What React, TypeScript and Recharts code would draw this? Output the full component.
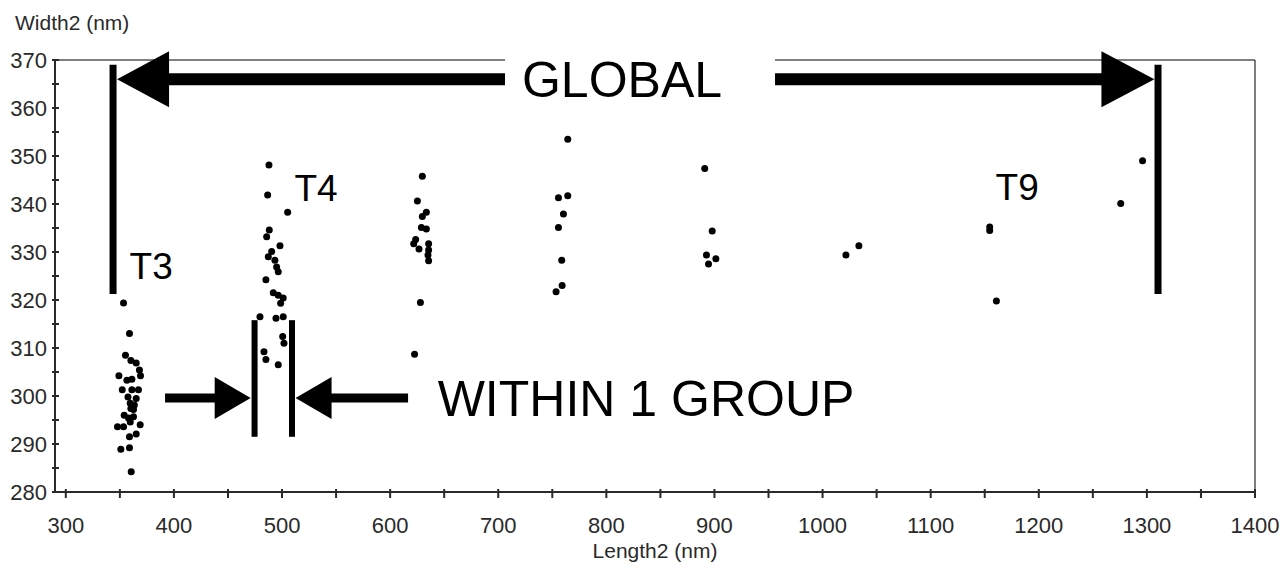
import React from "react";
import {
  ReferenceArea,
  ReferenceDot,
  ReferenceLine,
  Scatter,
  ScatterChart,
  XAxis,
  YAxis,
} from "recharts";

// Measured points, grouped by die (Length2, Width2 in nm)
const T3 = [
  [353.4, 319.4], [358.9, 313], [355.2, 308.5], [360.2, 307.4], [365.1, 306.9],
  [368.1, 305.4], [349.1, 304.2], [369.1, 304.2], [356.5, 303.3], [361.1, 303.5],
  [352.2, 301.3], [361.1, 301.3], [367.2, 301.3], [365.1, 299.5], [359.6, 298.5],
  [360.2, 297.4], [362.6, 297.2], [354, 296], [358, 295.4], [362.6, 295.7],
  [359.6, 294.6], [347.8, 293.6], [353.4, 293.6], [368.8, 294], [365.1, 292.1],
  [358.9, 291.5], [350.9, 288.9], [358.9, 289.2], [360.5, 284.2], [357.5, 299.8],
  [363.4, 298.1],
];
const T4 = [
  [487.9, 348.1], [486.7, 341.9], [505.2, 338.3], [488.2, 334.6], [485.8, 333.2],
  [498.1, 331.3], [490.4, 330.1], [487.3, 329], [493.4, 328.3], [495, 326.9],
  [496.5, 325.9], [485.1, 324.2], [491.9, 321.5], [496.5, 321], [501.1, 320.4],
  [498.7, 319.3], [479.6, 316.5], [494.4, 316.2], [501.1, 316.5], [500.6, 312.4],
  [501.8, 311], [483.3, 309.2], [485.1, 307.6], [496.5, 306.5],
];
const T5 = [
  [629.8, 345.8], [625.2, 340.6], [633.5, 338.3], [629.8, 337.4], [628.9, 335.1],
  [633.5, 334.8], [623.6, 332.6], [621.8, 331.7], [626.7, 330.6], [635.6, 331.7],
  [635.6, 330.4], [635, 329.4], [635.6, 328.2], [628, 319.5], [622.6, 308.7],
];
const T6 = [
  [764.3, 353.5], [755.7, 341.3], [764.3, 341.7], [760.3, 337.9], [755.7, 335.1],
  [758.7, 328.3], [759.1, 323], [753.5, 321.7],
];
const T7 = [[891, 347.4], [897.9, 334.4], [892.6, 329.4], [901.3, 328.6], [894.5, 327.5]];
const T8 = [[1021.6, 329.4], [1033.6, 331.3]];
const T9 = [[1154.6, 335.2], [1154.6, 334.5], [1160.8, 319.8], [1275.8, 340.1], [1296, 349]];

const X_TICKS = [
  300, 350, 400, 450, 500, 550, 600, 650, 700, 750, 800, 850, 900, 950, 1000, 1050,
  1100, 1150, 1200, 1250, 1300, 1350, 1400,
];
const Y_TICKS = [
  280, 285, 290, 295, 300, 305, 310, 315, 320, 325, 330, 335, 340, 345, 350, 355,
  360, 365, 370,
];

const points = [...T3, ...T4, ...T5, ...T6, ...T7, ...T8, ...T9].map(([x, y]) => ({ x, y }));

const FONT = "'Liberation Sans', Arial, sans-serif";
const INK = "#2a2a2a";

function XTick({ x, y, payload }: any) {
  const major = payload.value % 100 === 0;
  return (
    <g>
      <line x1={x} x2={x} y1={y - 3} y2={y + 6} stroke={INK} strokeWidth={2} />
      {major && (
        <text x={x} y={y + 41} textAnchor="middle" fontFamily={FONT} fontSize={22} fill={INK}>
          {payload.value}
        </text>
      )}
    </g>
  );
}

function YTick({ x, y, payload }: any) {
  const major = payload.value % 10 === 0;
  return (
    <g>
      <line x1={x - 3} x2={x + 4} y1={y} y2={y} stroke={INK} strokeWidth={2} />
      {major && (
        <text x={x - 8} y={y + 8} textAnchor="end" fontFamily={FONT} fontSize={22} fill={INK}>
          {payload.value}
        </text>
      )}
    </g>
  );
}

const dot = (p: any) => <circle cx={p.cx} cy={p.cy} r={3.5} fill="#000" />;

// arrowheads pointing left / right, tip at (cx, cy)
const headLeft = (len: number, half: number) => (p: any) => (
  <polygon
    points={`${p.cx},${p.cy} ${p.cx + len},${p.cy - half} ${p.cx + len},${p.cy + half}`}
    fill="#000"
  />
);
const headRight = (len: number, half: number) => (p: any) => (
  <polygon
    points={`${p.cx},${p.cy} ${p.cx - len},${p.cy - half} ${p.cx - len},${p.cy + half}`}
    fill="#000"
  />
);

const label = (text: string, size: number, bg?: [number, number]) => (p: any) => (
  <g>
    {bg && <rect x={p.cx + bg[0]} y={p.cy - 30} width={bg[1] - bg[0]} height={60} fill="#fff" />}
    <text
      x={p.cx}
      y={p.cy}
      dy="0.36em"
      textAnchor="middle"
      fontFamily={FONT}
      fontSize={size}
      fill="#000"
    >
      {text}
    </text>
  </g>
);

const bar = (x: number, y1: number, y2: number, w: number) => (
  <ReferenceLine
    segment={[{ x, y: y1 }, { x, y: y2 }]}
    stroke="#000"
    strokeWidth={w}
    ifOverflow="visible"
  />
);
const shaft = (x1: number, x2: number, y: number, w: number) => (
  <ReferenceLine
    segment={[{ x: x1, y }, { x: x2, y }]}
    stroke="#000"
    strokeWidth={w}
    ifOverflow="visible"
  />
);

export default function App() {
  return (
    <div style={{ position: "absolute", left: 0, top: 0, width: 1288, height: 584, background: "#fff" }}>
      <ScatterChart width={1288} height={584} margin={{ top: 60, right: 33, bottom: 0, left: 0 }}>
        <ReferenceArea x1={290} x2={1400} y1={280} y2={370} fill="none" stroke="#000" strokeWidth={1} />
        <XAxis
          type="number"
          dataKey="x"
          domain={[290, 1400]}
          ticks={X_TICKS}
          interval={0}
          height={92}
          tickSize={0}
          tickMargin={0}
          tickLine={false}
          axisLine={{ stroke: INK, strokeWidth: 2 }}
          tick={<XTick />}
          allowDataOverflow
        />
        <YAxis
          type="number"
          dataKey="y"
          domain={[280, 370]}
          ticks={Y_TICKS}
          interval={0}
          width={55}
          tickSize={0}
          tickMargin={0}
          tickLine={false}
          axisLine={{ stroke: INK, strokeWidth: 2 }}
          tick={<YTick />}
          allowDataOverflow
        />
        <Scatter data={points} shape={dot} isAnimationActive={false} />

        {/* GLOBAL span */}
        {bar(343.7, 321.25, 369, 7)}
        {bar(1310.3, 321.25, 369, 7)}
        {shaft(394.5, 706.3, 366, 12)}
        {shaft(956, 1262, 366, 12)}
        <ReferenceDot x={347.4} y={366} shape={headLeft(52, 28)} ifOverflow="visible" />
        <ReferenceDot x={1307} y={366} shape={headRight(53, 28)} ifOverflow="visible" />
        <ReferenceDot x={814.5} y={366} shape={label("GLOBAL", 50, [-117, 153])} ifOverflow="visible" />

        {/* WITHIN 1 GROUP span */}
        {bar(474.6, 291.5, 315.8, 6)}
        {bar(509.2, 291.5, 315.8, 6)}
        {shaft(391.8, 440, 299.6, 9)}
        {shaft(545, 616.6, 299.6, 9)}
        <ReferenceDot x={471} y={299.6} shape={headRight(36, 21)} ifOverflow="visible" />
        <ReferenceDot x={512.5} y={299.6} shape={headLeft(36, 21)} ifOverflow="visible" />
        <ReferenceDot x={836.7} y={299.6} shape={label("WITHIN 1 GROUP", 50)} ifOverflow="visible" />

        <ReferenceDot x={379} y={327.1} shape={label("T3", 37)} ifOverflow="visible" />
        <ReferenceDot x={531.4} y={343.3} shape={label("T4", 37)} ifOverflow="visible" />
        <ReferenceDot x={1180} y={343.7} shape={label("T9", 37)} ifOverflow="visible" />
      </ScatterChart>
      <svg
        width={1288}
        height={584}
        style={{ position: "absolute", left: 0, top: 0, pointerEvents: "none" }}
      >
        <text x={15} y={30} fontFamily={FONT} fontSize={21} fill={INK}>
          Width2 (nm)
        </text>
        <text x={655} y={558} textAnchor="middle" fontFamily={FONT} fontSize={21} fill={INK}>
          Length2 (nm)
        </text>
      </svg>
    </div>
  );
}
